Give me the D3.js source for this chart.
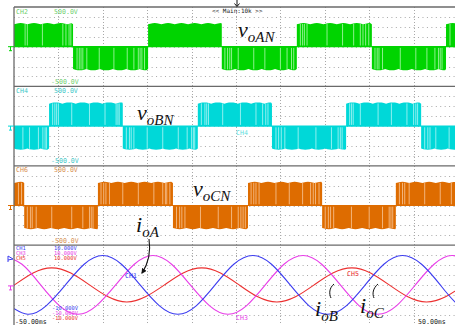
<!DOCTYPE html>
<html>
<head>
<meta charset="utf-8">
<script src="https://cdn.jsdelivr.net/npm/d3@7"></script>
<style>
  body { margin: 0; background: #fff; }
  svg { display: block; }
  .mono { font-family: "DejaVu Sans Mono", monospace; }
  .anno { font-family: "Liberation Serif", "Times New Roman", serif; font-style: italic; fill: #111; }
</style>
</head>
<body>
<div id="chart"></div>
<script>
// time axis (ms) and scope labels
const timeDomain = [-50, 50];
const timeLabels = ["-50.00ms", "50.00ms"];

// phase voltages: switching edges (ms) of the PWM blocks, sign of the first block
const channelsV = ["CH2", "CH4", "CH6"];
const voltScale = ["500.0V", "-500.0V"];
const edgesA = [-36.7, -19.8, -3.2, 13.7, 30.6, 47.3];
const edgesB = [-42.1, -25.5, -8.6, 8.1, 24.8, 41.7];
const edgesC = [-47.7, -31.1, -14.2, 2.7, 19.4, 36.0];
const startSign = [1, -1, 1];
const baseLevel = 282;                        // V
const rippleProfile = [0, 8, 14, 16, 14, 8, 0]; // V over one scallop
const rippleWidth = 3.0;                      // ms

// lighter PWM notches inside the blocks (ms)
const notchA = [-47.5, -47.0, -43.6, -39.0, -38.3, -37.6, -37.2, -35.8, -35.3, -34.9, -34.5, -33.6, -30.8,
  -27.5, -24.5, -23.0, -22.0, -21.6, -21.2, -20.6, -2.5, -1.9, -1.4, -1.0, 0.5, 4.0, 6.5, 10.0, 11.5, 12.5,
  13.0, 14.5, 15.0, 15.4, 16.0, 20.5, 24.0, 26.5, 28.0, 28.6, 29.2, 29.9, 31.3, 31.8, 32.2, 33.0, 37.0,
  40.5, 43.0, 44.8, 45.6, 46.0, 46.4, 48.2];
const notchB = [-48.0, -46.5, -44.5, -43.5, -43.0, -42.7, -41.3, -40.8, -40.4, -40.0, -37.0, -33.0, -29.5,
  -27.0, -26.6, -26.3, -24.7, -24.0, -23.6, -23.0, -20.0, -16.5, -13.0, -11.0, -10.0, -9.6, -9.3, -7.8,
  -7.0, -6.6, -6.2, -3.0, 1.0, 4.5, 6.0, 6.7, 7.2, 9.0, 9.6, 10.2, 11.0, 14.0, 18.0, 21.5, 23.0, 23.5, 23.9,
  25.6, 26.0, 26.4, 28.0, 32.0, 35.0, 38.5, 40.0, 40.5, 40.9, 42.5, 43.2, 43.7, 45.0, 48.0];
const notchC = [-49.0, -48.3, -47.0, -46.3, -45.9, -45.0, -41.5, -37.0, -34.5, -33.0, -32.6, -32.2, -30.4,
  -29.8, -29.3, -28.5, -25.5, -22.0, -18.5, -16.5, -15.9, -15.6, -14.9, -13.4, -12.7, -12.2, -11.5, -8.0,
  -4.0, -1.0, 0.5, 1.1, 1.6, 2.1, 3.4, 4.0, 4.5, 5.2, 9.0, 12.0, 15.0, 16.8, 17.4, 17.9, 18.7, 20.1, 20.8,
  21.3, 22.0, 26.0, 30.0, 33.0, 34.5, 34.9, 35.3, 36.8, 37.5, 38.0, 39.0, 42.5, 46.0, 48.5];

// output currents, [ms, value]
const channelsI = ["CH1", "CH3", "CH5"];
const currentScale = ["10.000V", "-10.000V"];
const currentBlue = [[-51.1, -5.2], [-46.9, -7.4], [-42.7, -5.2], [-38.4, 0], [-34.2, 5.2], [-30.0, 7.4],
  [-25.8, 5.2], [-21.6, 0], [-17.3, -5.2], [-13.1, -7.4], [-8.9, -5.2], [-4.7, 0], [-0.5, 5.2], [3.8, 7.4],
  [8.0, 5.2], [12.2, 0], [16.4, -5.2], [20.6, -7.4], [24.9, -5.2], [29.1, 0], [33.3, 5.2], [37.5, 7.4],
  [41.8, 5.2], [46.0, 0], [50.2, -5.2], [54.4, -7.4]];
const currentMagenta = [[-52.5, 7.4], [-48.2, 5.2], [-44.0, 0], [-39.8, -5.2], [-35.6, -7.4], [-31.4, -5.2],
  [-27.1, 0], [-22.9, 5.2], [-18.7, 7.4], [-14.5, 5.2], [-10.3, 0], [-6.0, -5.2], [-1.8, -7.4], [2.4, -5.2],
  [6.6, 0], [10.8, 5.2], [15.1, 7.4], [19.3, 5.2], [23.5, 0], [27.7, -5.2], [31.9, -7.4], [36.2, -5.2],
  [40.4, 0], [44.6, 5.2], [48.8, 7.4], [53.0, 5.2]];
const currentRed = [[-54.1, -3.0], [-49.9, 0], [-45.7, 3.0], [-41.5, 4.3], [-37.2, 3.0], [-33.0, 0],
  [-28.8, -3.0], [-24.6, -4.3], [-20.4, -3.0], [-16.1, 0], [-11.9, 3.0], [-7.7, 4.3], [-3.5, 3.0], [0.7, 0],
  [4.9, -3.0], [9.2, -4.3], [13.4, -3.0], [17.6, 0], [21.8, 3.0], [26.1, 4.3], [30.3, 3.0], [34.5, 0],
  [38.7, -3.0], [42.9, -4.3], [47.2, -3.0], [51.4, 0]];

const W = 455, H = 325;
const left = 14, top0 = 7, panelH = 79.4;
const panelTop = i => top0 + i * panelH;

const svg = d3.select("#chart").append("svg").attr("width", W).attr("height", H);

const x = d3.scaleLinear().domain(timeDomain).range([left, 458]);
const yV = i => d3.scaleLinear().domain([-500, 500]).range([panelTop(i) + panelH, panelTop(i)]);
const yI = d3.scaleLinear().domain([-10, 10]).range([panelTop(3) + panelH, panelTop(3)]);

svg.append("clipPath").attr("id", "plot")
  .append("rect").attr("x", left).attr("y", top0).attr("width", W - left).attr("height", H - top0);

// grid
const grid = svg.append("g").attr("stroke", "#a8a8a8").attr("stroke-width", 1);
d3.range(1, 10).forEach(k => {
  const gx = Math.round(x(timeDomain[0] + k * 10)) + 0.5;
  grid.append("line").attr("x1", gx).attr("x2", gx).attr("y1", top0).attr("y2", H)
    .attr("stroke-dasharray", "1,2");
});
d3.range(4).forEach(i => {
  d3.range(1, 8).forEach(j => {
    const gy = Math.round(panelTop(i) + j * panelH / 8) + 0.5;
    grid.append("line").attr("x1", left).attr("x2", W).attr("y1", gy).attr("y2", gy)
      .attr("stroke-dasharray", "1,3.44");
  });
});

// voltage panels
const phases = [
  { edges: edgesA, notches: notchA, color: "#00d400", light: "#9cf49c", label: "#70d070" },
  { edges: edgesB, notches: notchB, color: "#00d8d8", light: "#9ef2f2", label: "#40c8c8" },
  { edges: edgesC, notches: notchC, color: "#de6c00", light: "#f5bc88", label: "#d89050" }
];

function blockPoints(t0, t1, sign) {
  const pts = [[t0, 0]];
  const n = rippleProfile.length - 1;
  for (let s = t0; s < t1; s += rippleWidth) {
    rippleProfile.forEach((r, k) => {
      const t = s + rippleWidth * k / n;
      if (t <= t1) pts.push([t, sign * (baseLevel + r)]);
    });
  }
  pts.push([t1, sign * baseLevel], [t1, 0]);
  return pts;
}

const wave = svg.append("g").attr("clip-path", "url(#plot)");

phases.forEach((p, i) => {
  const y = yV(i);
  const bounds = [timeDomain[0], ...p.edges, timeDomain[1]];
  const line = d3.line().x(d => x(d[0])).y(d => y(d[1]));
  const g = wave.append("g");
  g.append("line").attr("x1", left).attr("x2", W).attr("y1", y(0)).attr("y2", y(0))
    .attr("stroke", p.color).attr("stroke-width", 1.2);
  d3.range(bounds.length - 1).forEach(k => {
    const sign = startSign[i] * (k % 2 ? -1 : 1);
    g.append("path").attr("d", line(blockPoints(bounds[k], bounds[k + 1], sign)) + "Z")
      .attr("fill", p.color);
  });
  p.notches.forEach(t => {
    const k = d3.bisectRight(p.edges, t);
    const sign = startSign[i] * (k % 2 ? -1 : 1);
    g.append("line").attr("x1", x(t)).attr("x2", x(t))
      .attr("y1", y(sign * 15)).attr("y2", y(sign * (baseLevel + 4)))
      .attr("stroke", p.light).attr("stroke-width", 0.9);
  });
});

// currents
const currents = [
  { data: currentRed, color: "#ec3030" },
  { data: currentMagenta, color: "#e83ce8" },
  { data: currentBlue, color: "#3c3cf0" }
];
const curLine = d3.line().x(d => x(d[0])).y(d => yI(d[1])).curve(d3.curveNatural);
currents.forEach(c => {
  wave.append("path").attr("d", curLine(c.data))
    .attr("fill", "none").attr("stroke", c.color).attr("stroke-width", 1.1);
});

// frame
const frame = svg.append("g").attr("stroke", "#6a6a6a").attr("stroke-width", 1.3);
d3.range(4).forEach(i => {
  frame.append("line").attr("x1", left).attr("x2", W)
    .attr("y1", panelTop(i)).attr("y2", panelTop(i));
});
frame.append("line").attr("x1", left).attr("x2", left).attr("y1", top0).attr("y2", H);

// scope labels
const txt = svg.append("g").attr("class", "mono").attr("font-size", 6.6);
phases.forEach((p, i) => {
  const t = panelTop(i);
  txt.append("text").attr("x", 16).attr("y", t + 6.5).attr("fill", p.label).text(channelsV[i]);
  txt.append("text").attr("x", 54).attr("y", t + 6.5).attr("fill", p.label).text(voltScale[0]);
  txt.append("text").attr("x", 51).attr("y", t + panelH - 2.5).attr("fill", p.label).text(voltScale[1]);
  // ground marker
  const gy = yV(i)(0);
  svg.append("path").attr("d", `M8,${gy}H14M10.5,${gy}V${gy + 4}M9,${gy + 4}H12`)
    .attr("stroke", p.color).attr("fill", "none");
});
const iColors = ["#3c3cf0", "#e83ce8", "#ec3030"];
channelsI.forEach((c, k) => {
  const t = panelTop(3);
  txt.append("text").attr("x", 16).attr("y", t + 5 + k * 5).attr("font-size", 5.4)
    .attr("fill", iColors[k]).text(c);
  txt.append("text").attr("x", 54).attr("y", t + 5 + k * 5).attr("font-size", 5.4)
    .attr("fill", iColors[k]).text(currentScale[0]);
  txt.append("text").attr("x", 52).attr("y", 310 + k * 5).attr("font-size", 5.4)
    .attr("fill", iColors[k]).text(currentScale[1]);
});
svg.append("path").attr("d", `M8,${yI(0) + 1}H14M10.5,${yI(0) + 1}V${yI(0) + 5}M9,${yI(0) + 5}H12`)
  .attr("stroke", "#e83ce8").attr("fill", "none");
svg.append("path").attr("d", "M8,256V262M8,256L13,259L8,260")
  .attr("stroke", "#3c3cf0").attr("fill", "none");

txt.append("text").attr("x", 15).attr("y", 324).attr("fill", "#222").text(timeLabels[0]);
txt.append("text").attr("x", 418).attr("y", 324).attr("fill", "#222").text(timeLabels[1]);
txt.append("text").attr("x", 212).attr("y", 12.5).attr("font-size", 6).attr("fill", "#222").text("<< Main:10k >>");
svg.append("path").attr("d", "M237,0V6M234.5,3.5L237,6.5L239.5,3.5").attr("stroke", "#111").attr("fill", "none");

// channel tags on the traces
txt.append("text").attr("x", 236).attr("y", 135).attr("fill", "#60e0e0").text("CH4");
txt.append("text").attr("x", 125).attr("y", 278).attr("fill", "#3c3cf0").text("CH1");
txt.append("text").attr("x", 347).attr("y", 276).attr("fill", "#ec3030").text("CH5");
txt.append("text").attr("x", 236).attr("y", 320).attr("fill", "#e83ce8").text("CH3");

// annotations
function anno(xp, yp, main, sub) {
  const t = svg.append("text").attr("class", "anno").attr("x", xp).attr("y", yp);
  t.append("tspan").attr("font-size", 22).text(main);
  t.append("tspan").attr("font-size", 15).attr("dy", 5).text(sub);
}
anno(238, 37, "v", "oAN");
anno(137, 120, "v", "oBN");
anno(193, 196, "v", "oCN");
anno(136, 232, "i", "oA");
anno(315, 316, "i", "oB");
anno(360, 313, "i", "oC");

svg.append("defs").append("marker").attr("id", "ah").attr("viewBox", "0 0 10 10")
  .attr("refX", 8).attr("refY", 5).attr("markerWidth", 5).attr("markerHeight", 5).attr("orient", "auto")
  .append("path").attr("d", "M0,0L10,5L0,10Z").attr("fill", "#111");
svg.append("path").attr("d", "M149,239C151,252 148,264 142,273")
  .attr("stroke", "#111").attr("fill", "none").attr("stroke-width", 1.1).attr("marker-end", "url(#ah)");
svg.append("path").attr("d", "M334,284C329,288 329,294 331,298").attr("stroke", "#111").attr("fill", "none");
svg.append("path").attr("d", "M378,284C373,288 372,294 374,298").attr("stroke", "#111").attr("fill", "none");
</script>
</body>
</html>
